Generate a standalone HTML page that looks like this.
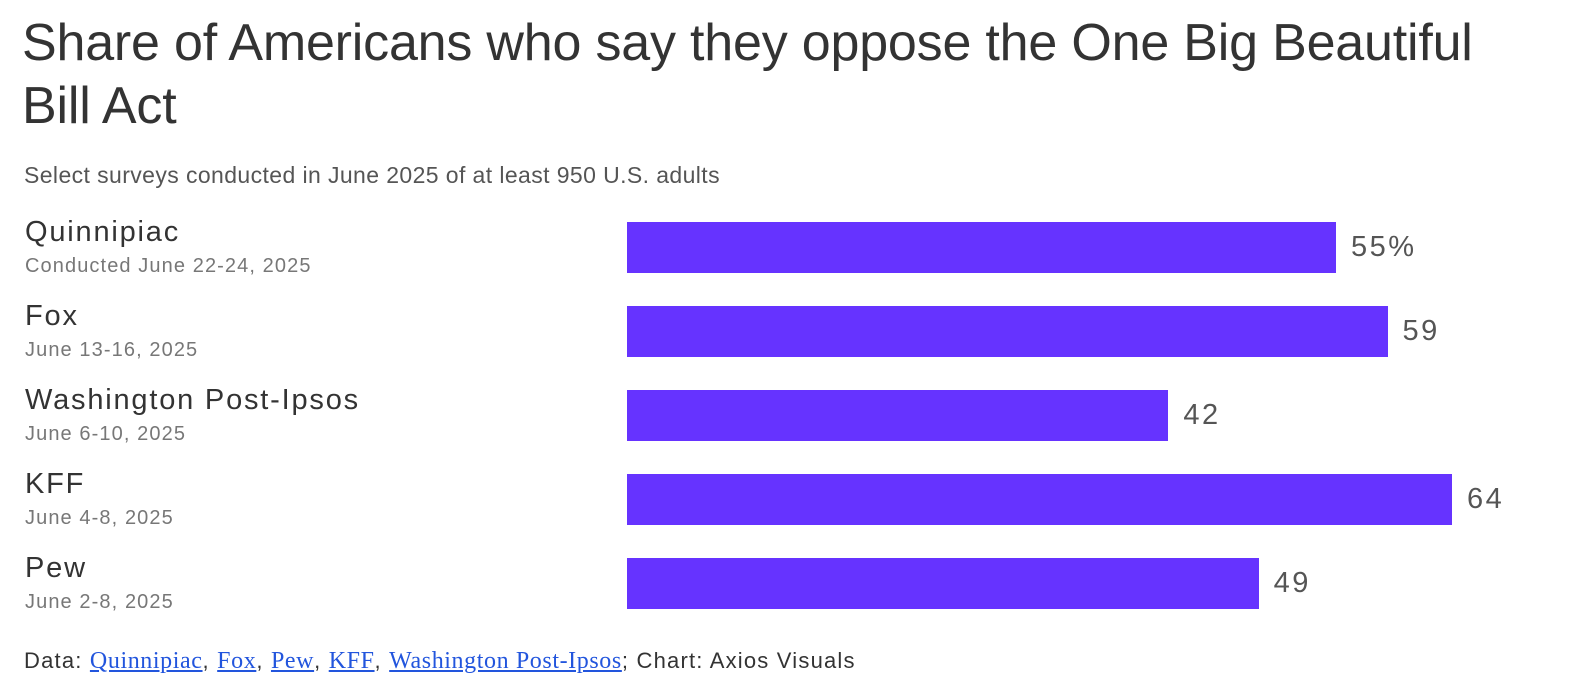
<!DOCTYPE html>
<html><head><meta charset="utf-8"><style>
body{margin:0;width:1580px;height:698px;background:#fff;font-family:"Liberation Sans",sans-serif;overflow:hidden;position:relative}
.t{position:absolute;left:22px;top:12px;font-size:52px;line-height:63px;color:#333;letter-spacing:-0.2px;width:1500px}
.sub{position:absolute;left:24px;top:162px;font-size:23px;color:#555;letter-spacing:0.4px}
.foot{position:absolute;left:24px;top:648px;font-size:22px;color:#333;letter-spacing:1.2px}
.foot a{font-family:"Liberation Serif",serif;font-size:24px;color:#2255dd;text-decoration:underline;letter-spacing:0.6px}
.lbl{position:absolute;left:25px;font-size:29px;color:#333;letter-spacing:1.8px}
.dt{position:absolute;left:25px;font-size:20px;color:#777;letter-spacing:1.1px}
.bar{position:absolute;background:#6633ff;height:51px}
.val{position:absolute;font-size:29px;color:#555;letter-spacing:2.5px;line-height:51px}
</style></head><body>
<div class="t">Share of Americans who say they oppose the One Big Beautiful Bill Act</div>
<div class="sub">Select surveys conducted in June 2025 of at least 950 U.S. adults</div>
<div id="chart"></div>
<div class="foot">Data: <a>Quinnipiac</a>, <a>Fox</a>, <a>Pew</a>, <a>KFF</a>, <a>Washington Post-Ipsos</a>; Chart: Axios Visuals</div>
<script>
const categories=["Quinnipiac","Fox","Washington Post-Ipsos","KFF","Pew"];
const dates=["Conducted June 22-24, 2025","June 13-16, 2025","June 6-10, 2025","June 4-8, 2025","June 2-8, 2025"];
const values=[55,59,42,64,49];
const valueLabels=["55%","59","42","64","49"];
const x0=627,pxPer=12.89,y0=222,pitch=84;
const xs=v=>v*pxPer;
const c=document.getElementById('chart');
categories.forEach((cat,i)=>{
  const y=y0+i*pitch;
  const l=document.createElement('div');l.className='lbl';l.style.top=(y-6)+'px';l.textContent=cat;
  
  
  c.appendChild(l);
  const d=document.createElement('div');d.className='dt';d.style.top=(y+33)+'px';d.textContent=dates[i];
  
  
  c.appendChild(d);
  const b=document.createElement('div');b.className='bar';b.style.left=x0+'px';b.style.top=y+'px';b.style.width=xs(values[i])+'px';
  
  
  c.appendChild(b);
  const v=document.createElement('div');v.className='val';v.style.left=(x0+xs(values[i])+15)+'px';v.style.top=y+'px';v.textContent=valueLabels[i];
  
  
  c.appendChild(v);
});
</script>
</body></html>
